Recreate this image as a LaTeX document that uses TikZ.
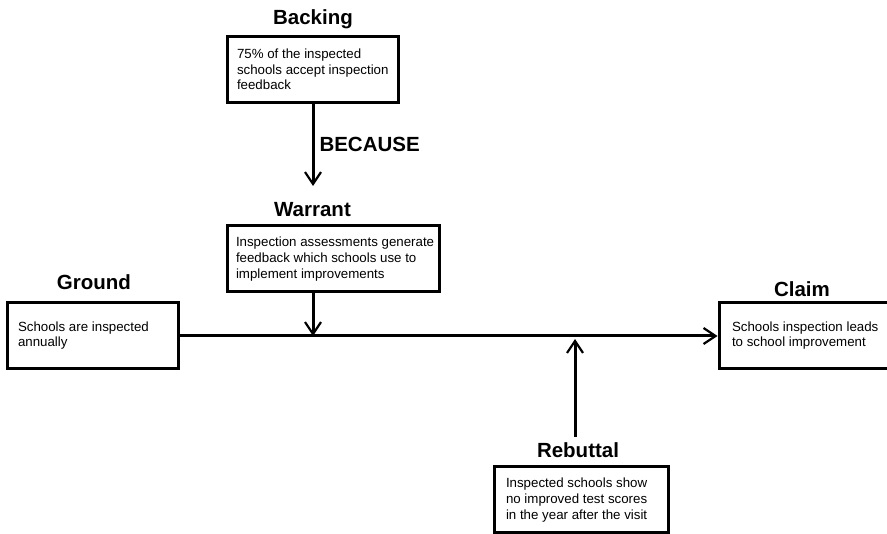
\documentclass[tikz,border=0pt]{standalone}
\usepackage{fontspec}
\setmainfont{Liberation Sans}
\usetikzlibrary{arrows.meta}

\begin{document}
\begin{tikzpicture}[x=1pt,y=-1pt,
  line width=3pt,
  argbox/.style={draw=black, line width=3pt, inner sep=0pt, minimum height=66pt},
  argtext/.style={anchor=west, inner sep=0pt, align=left,
    font=\fontsize{13.3pt}{15.7pt}\selectfont},
  heading/.style={anchor=base, inner sep=0pt, font=\fontsize{20.5pt}{24pt}\selectfont\bfseries},
  link/.style={draw=black, line width=3pt,
    -{Straight Barb[length=12pt,width=16pt,line width=2.2pt]}}
]
\useasboundingbox (0,0) rectangle (887,534);

% Boxes of the argument
\node[argbox, minimum width=171pt] (backing)  at (312.5,69.5) {};
\node[argbox, minimum width=212pt] (warrant)  at (333,259)    {};
\node[argbox, minimum width=171pt] (ground)   at (92.5,335.5) {};
\node[argbox, minimum width=172pt] (claim)    at (805,335.5)  {};
\node[argbox, minimum width=174pt] (rebuttal) at (581,500)    {};

% Box contents
\node[argtext] (backingtext) at ([xshift=10pt]backing.west)
  {75\% of the inspected\\schools accept inspection\\feedback};
\node[argtext] (warranttext) at ([xshift=9pt]warrant.west)
  {Inspection assessments generate\\feedback which schools use to\\implement improvements};
\node[argtext] (groundtext) at ([xshift=11pt]ground.west)
  {Schools are inspected\\annually};
\node[argtext] (claimtext) at ([xshift=13pt]claim.west)
  {Schools inspection leads\\to school improvement};
\node[argtext] (rebuttaltext) at ([xshift=12pt]rebuttal.west)
  {Inspected schools show\\no improved test scores\\in the year after the visit};

% Headings
\node[heading] (backinghead)  at (313,25)  {Backing};
\node[heading] (warranthead)  at (312.5,217) {Warrant};
\node[heading] (groundhead)   at (94,290)  {Ground};
\node[heading] (claimhead)    at (802,297) {Claim};
\node[heading] (rebuttalhead) at (578,458) {Rebuttal};
\node[heading, anchor=base west] (because) at (318,152) {BECAUSE};

% Connector end points
\coordinate (backingend) at (313,186);
\coordinate (warrantend) at (313,336);
\coordinate (rebuttalstart) at (575,437);
\coordinate (rebuttalend) at (575,339);

% Connectors
\draw[link] (ground.east |- 0,336) -- (claim.west |- 0,336);
\draw[link] (backing.south -| backingend) -- (backingend);
\draw[link] (warrant.south -| warrantend) -- (warrantend);
\draw[link] (rebuttalstart) -- (rebuttalend);
\end{tikzpicture}
\end{document}
